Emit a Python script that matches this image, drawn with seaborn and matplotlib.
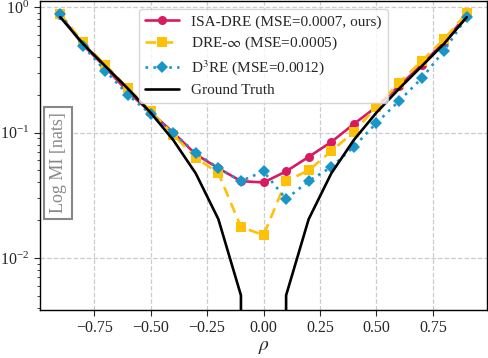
import matplotlib
matplotlib.use("Agg")
import matplotlib.pyplot as plt
import seaborn as sns
import numpy as np
import pandas as pd

rho = [-0.9, -0.8, -0.7, -0.6, -0.5, -0.4, -0.3, -0.2, -0.1, 0.0,
       0.1, 0.2, 0.3, 0.4, 0.5, 0.6, 0.7, 0.8, 0.9]
isa_dre = [0.86, 0.50, 0.33, 0.21, 0.145, 0.100, 0.067, 0.052, 0.041, 0.040,
           0.049, 0.064, 0.084, 0.117, 0.160, 0.235, 0.345, 0.53, 0.86]
dre_inf = [0.88, 0.526, 0.345, 0.225, 0.149, 0.096, 0.063, 0.0475, 0.0177, 0.0152,
           0.041, 0.050, 0.071, 0.101, 0.160, 0.248, 0.370, 0.556, 0.895]
d3re = [0.88, 0.49, 0.31, 0.20, 0.140, 0.099, 0.069, 0.052, 0.041, 0.049,
        0.0295, 0.041, 0.053, 0.077, 0.119, 0.178, 0.270, 0.450, 0.83]
ground_truth = [0.830, 0.511, 0.337, 0.223, 0.144, 0.0872, 0.0472, 0.0204, 0.00504, 0.0,
                0.00504, 0.0204, 0.0472, 0.0872, 0.144, 0.223, 0.337, 0.511, 0.830]
labels = ["ISA-DRE (MSE=0.0007, ours)", r"DRE-$\infty$ (MSE=0.0005)",
          r"D$^3$RE (MSE=0.0012)", "Ground Truth"]
xticks = [-0.75, -0.5, -0.25, 0.0, 0.25, 0.5, 0.75]

sns.set_style("ticks")
plt.rcParams['font.family'] = ['Liberation Serif', 'DejaVu Serif']
plt.rcParams['mathtext.fontset'] = 'stix'

fig = plt.figure(figsize=(4.88, 3.58), dpi=100)
ax = fig.add_axes([0.082, 0.134, 0.916, 0.863])
ax.set_yscale('log')

df = pd.DataFrame({"rho": rho, "isa": isa_dre, "dre": dre_inf, "d3": d3re})
sns.lineplot(data=df, x="rho", y="isa", ax=ax, color="#D81B60", marker="o",
             markersize=6.5, linewidth=1.9, markeredgewidth=0, label=labels[0])
sns.lineplot(data=df, x="rho", y="dre", ax=ax, color="#FFC107", marker="s",
             markersize=6.5, linewidth=1.9, linestyle=(0, (4, 2.5)), markeredgewidth=0,
             label=labels[1])
sns.lineplot(data=df, x="rho", y="d3", ax=ax, color="#1A95C8", marker="D",
             markersize=6.5, linewidth=1.9, linestyle=(0, (1, 2)), markeredgewidth=0,
             label=labels[2])
ax.plot(rho, ground_truth, color="black", linewidth=1.9, label=labels[3])

ax.set_xlim(-0.99, 0.99)
ax.set_ylim(0.00385, 1.116)
ax.set_xticks(xticks)
ax.grid(True, which='major', linestyle='--', color='#cccccc', linewidth=0.9)
ax.tick_params(axis='both', which='major', labelsize=11.5, direction='out', length=4)
ax.tick_params(axis='y', which='minor', length=2.5)
for s in ax.spines.values():
    s.set_visible(True)
    s.set_color('black')
    s.set_linewidth(1.0)

ax.set_xlabel(r"$\rho$", fontsize=14, labelpad=2)
ax.set_ylabel("")
ax.text(0.022, 0.64, "Log MI [nats]", transform=ax.transAxes, rotation=90,
        fontsize=13, color='#888888', ha='left', va='top',
        bbox=dict(boxstyle='square,pad=0.3', facecolor='white', edgecolor='#888888', linewidth=1.5))

leg = ax.legend(loc='upper center', fontsize=11, frameon=True, fancybox=True,
                borderpad=0.4, labelspacing=0.4, handlelength=2.2)
leg.get_frame().set_edgecolor('#cccccc')

fig.savefig("out.png", dpi=100)
